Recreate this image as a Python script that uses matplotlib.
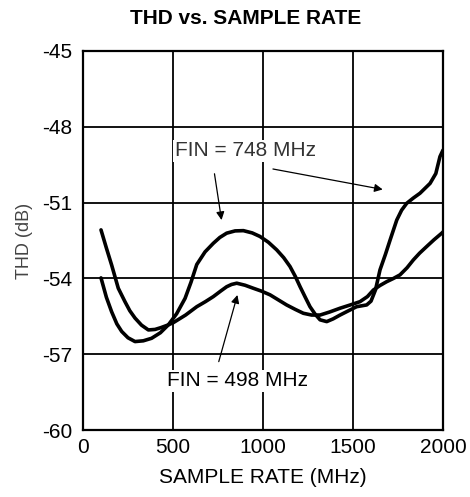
import matplotlib.pyplot as plt

plt.rcParams["font.family"] = ["Liberation Sans", "DejaVu Sans"]
plt.rcParams["axes.unicode_minus"] = False

# FIN = 748 MHz curve
rate_748 = [100, 130, 159, 188, 215, 250, 289, 335, 381, 430, 474, 520, 567, 600, 632,
            678, 724, 760, 798, 845, 891, 940, 983, 1030, 1076, 1115, 1150, 1180, 1206,
            1235, 1261, 1290, 1317, 1354, 1390, 1428, 1475, 1520, 1576, 1600, 1625, 1650,
            1680, 1706, 1743, 1770, 1798, 1835, 1872, 1928, 1960, 1983, 2000]
thd_748 = [-53.98, -54.75, -55.32, -55.80, -56.10, -56.35, -56.50, -56.47, -56.37, -56.15,
           -55.84, -55.40, -54.79, -54.15, -53.45, -52.95, -52.61, -52.38, -52.21, -52.12,
           -52.11, -52.20, -52.34, -52.57, -52.87, -53.18, -53.53, -53.93, -54.33, -54.75,
           -55.12, -55.42, -55.64, -55.71, -55.60, -55.45, -55.28, -55.12, -55.05, -54.90,
           -54.45, -53.66, -53.05, -52.48, -51.69, -51.30, -51.03, -50.82, -50.63, -50.24,
           -49.85, -49.18, -48.92]

# FIN = 498 MHz curve
rate_498 = [100, 130, 159, 196, 233, 260, 289, 325, 363, 400, 432, 470, 502, 570, 632,
            680, 724, 765, 798, 825, 854, 900, 946, 990, 1039, 1085, 1131, 1180, 1224,
            1270, 1317, 1370, 1428, 1485, 1539, 1580, 1613, 1650, 1687, 1725, 1761, 1800,
            1835, 1870, 1909, 1950, 1993, 2000]
thd_498 = [-52.08, -52.80, -53.47, -54.39, -54.92, -55.28, -55.57, -55.85, -56.04, -56.02,
           -55.95, -55.85, -55.75, -55.45, -55.12, -54.92, -54.72, -54.50, -54.33, -54.24,
           -54.19, -54.27, -54.39, -54.50, -54.65, -54.85, -55.05, -55.23, -55.38, -55.45,
           -55.45, -55.33, -55.18, -55.05, -54.92, -54.72, -54.46, -54.28, -54.13, -54.00,
           -53.86, -53.58, -53.27, -53.00, -52.74, -52.47, -52.21, -52.16]

x_ticks = [0, 500, 1000, 1500, 2000]
y_ticks = [-60, -57, -54, -51, -48, -45]

fig = plt.figure(figsize=(4.7, 4.97), dpi=100)
ax = fig.add_axes([0.1766, 0.1348, 0.766, 0.7626])

ax.plot(rate_748, thd_748, color="black", lw=2.6, solid_capstyle="round",
        solid_joinstyle="round", zorder=3)
ax.plot(rate_498, thd_498, color="black", lw=2.6, solid_capstyle="round",
        solid_joinstyle="round", zorder=3)

ax.set_xlim(0, 2000)
ax.set_ylim(-60, -45)
ax.set_xticks(x_ticks)
ax.set_yticks(y_ticks)
ax.tick_params(length=0, labelsize=15)
ax.tick_params(axis="y", pad=8)
ax.tick_params(axis="x", pad=6)
ax.grid(True, color="black", lw=1.3)
for s in ax.spines.values():
    s.set_linewidth(1.6)

ax.set_xlabel("SAMPLE RATE (MHz)", fontsize=15, labelpad=8)
ax.set_ylabel("THD (dB)", fontsize=13, color="#444444", labelpad=6)
fig.text(0.523, 0.963, "THD vs. SAMPLE RATE", fontsize=15, fontweight="bold",
         ha="center", va="center")

# annotations
ax.text(900, -48.95, "FIN = 748 MHz", fontsize=15, color="#333333", ha="center",
        va="center", zorder=4,
        bbox=dict(facecolor="white", edgecolor="none", pad=1))
ax.annotate("", xy=(772, -51.8), xytext=(728, -49.75),
            arrowprops=dict(arrowstyle="-|>", color="black", lw=0.9, mutation_scale=12))
ax.annotate("", xy=(1680, -50.5), xytext=(1040, -49.65),
            arrowprops=dict(arrowstyle="-|>", color="black", lw=0.9, mutation_scale=12))

ax.text(860, -58.05, "FIN = 498 MHz", fontsize=15, color="black", ha="center",
        va="center", zorder=4,
        bbox=dict(facecolor="white", edgecolor="none", pad=1))
ax.annotate("", xy=(862, -54.55), xytext=(750, -57.4),
            arrowprops=dict(arrowstyle="-|>", color="black", lw=0.9, mutation_scale=12))

fig.savefig("out.png", dpi=100)
